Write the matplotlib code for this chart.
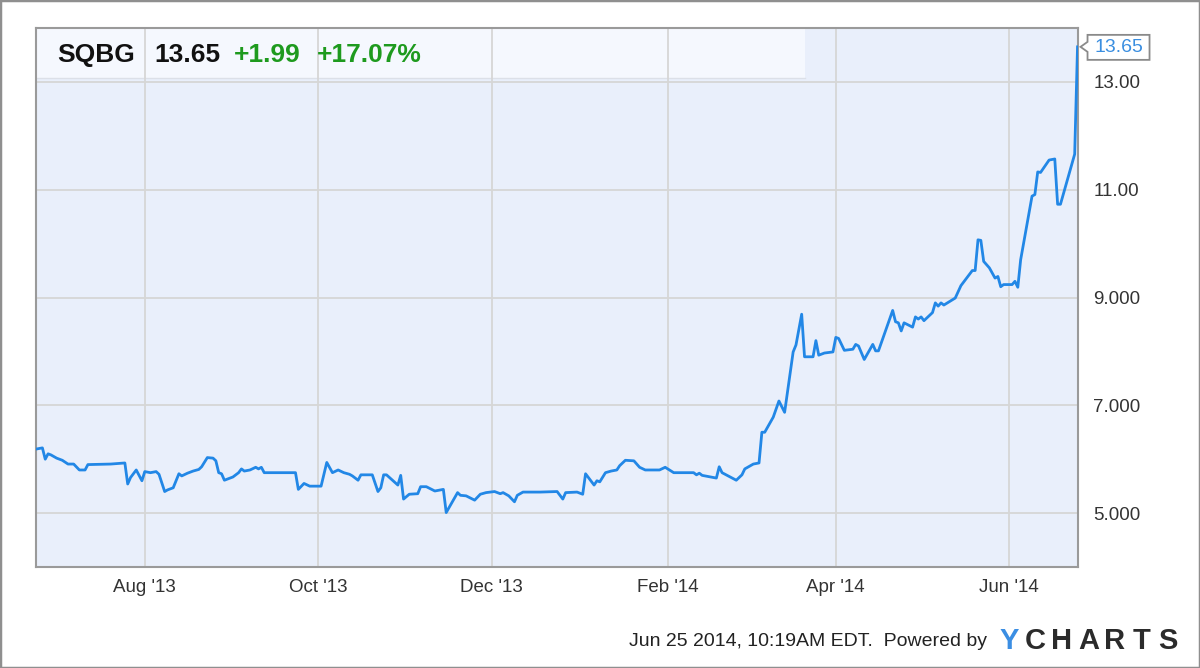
import matplotlib
matplotlib.use('Agg')
import matplotlib.pyplot as plt
import matplotlib.dates as mdates
import matplotlib.patches as patches
import matplotlib.transforms as mtransforms
import pandas as pd

# serie de precos
datas = [
    '2013-06-24', '2013-06-26', '2013-06-27', '2013-06-28', '2013-06-29', '2013-07-01',
    '2013-07-03', '2013-07-05', '2013-07-07', '2013-07-09', '2013-07-11', '2013-07-12',
    '2013-07-20', '2013-07-25', '2013-07-26', '2013-07-27', '2013-07-29', '2013-07-31',
    '2013-08-01', '2013-08-03', '2013-08-05', '2013-08-06', '2013-08-08', '2013-08-09',
    '2013-08-11', '2013-08-13', '2013-08-14', '2013-08-16', '2013-08-18', '2013-08-20',
    '2013-08-21', '2013-08-23', '2013-08-25', '2013-08-26', '2013-08-27', '2013-08-28',
    '2013-08-29', '2013-09-01', '2013-09-03', '2013-09-04', '2013-09-05', '2013-09-07',
    '2013-09-09', '2013-09-10', '2013-09-11', '2013-09-12', '2013-09-23', '2013-09-24',
    '2013-09-26', '2013-09-28', '2013-10-02', '2013-10-04', '2013-10-06', '2013-10-08',
    '2013-10-10', '2013-10-12', '2013-10-13', '2013-10-15', '2013-10-16', '2013-10-20',
    '2013-10-22', '2013-10-23', '2013-10-24', '2013-10-25', '2013-10-29', '2013-10-30',
    '2013-10-31', '2013-11-02', '2013-11-05', '2013-11-06', '2013-11-08', '2013-11-11',
    '2013-11-14', '2013-11-15', '2013-11-19', '2013-11-20', '2013-11-22', '2013-11-25',
    '2013-11-27', '2013-11-29', '2013-12-02', '2013-12-04', '2013-12-05', '2013-12-07',
    '2013-12-09', '2013-12-10', '2013-12-12', '2013-12-18', '2013-12-24', '2013-12-26',
    '2013-12-27', '2013-12-31', '2014-01-02', '2014-01-03', '2014-01-06', '2014-01-07',
    '2014-01-08', '2014-01-10', '2014-01-12', '2014-01-14', '2014-01-15', '2014-01-17',
    '2014-01-20', '2014-01-22', '2014-01-24', '2014-01-29', '2014-01-31', '2014-02-03',
    '2014-02-10', '2014-02-11', '2014-02-12', '2014-02-13', '2014-02-18', '2014-02-19',
    '2014-02-20', '2014-02-25', '2014-02-27', '2014-02-28', '2014-03-03', '2014-03-05',
    '2014-03-06', '2014-03-07', '2014-03-10', '2014-03-12', '2014-03-14', '2014-03-17',
    '2014-03-18', '2014-03-20', '2014-03-21', '2014-03-24', '2014-03-25', '2014-03-26',
    '2014-03-28', '2014-03-31', '2014-04-01', '2014-04-02', '2014-04-04', '2014-04-07',
    '2014-04-08', '2014-04-09', '2014-04-11', '2014-04-14', '2014-04-15', '2014-04-16',
    '2014-04-21', '2014-04-22', '2014-04-23', '2014-04-24', '2014-04-25', '2014-04-28',
    '2014-04-29', '2014-04-30', '2014-05-01', '2014-05-02', '2014-05-05', '2014-05-06',
    '2014-05-07', '2014-05-08', '2014-05-09', '2014-05-13', '2014-05-15', '2014-05-17',
    '2014-05-19', '2014-05-20', '2014-05-21', '2014-05-22', '2014-05-23', '2014-05-25',
    '2014-05-27', '2014-05-28', '2014-05-29', '2014-05-30', '2014-06-02', '2014-06-03',
    '2014-06-04', '2014-06-05', '2014-06-09', '2014-06-10', '2014-06-11', '2014-06-12',
    '2014-06-15', '2014-06-17', '2014-06-18', '2014-06-19', '2014-06-24', '2014-06-25',
]
precos = [
    6.19, 6.21, 6.00, 6.10, 6.08, 6.02,
    5.98, 5.91, 5.91, 5.80, 5.80, 5.90,
    5.91, 5.93, 5.54, 5.66, 5.80, 5.60,
    5.77, 5.75, 5.77, 5.72, 5.40, 5.43,
    5.47, 5.73, 5.69, 5.74, 5.78, 5.81,
    5.86, 6.03, 6.02, 5.97, 5.75, 5.73,
    5.61, 5.67, 5.75, 5.82, 5.78, 5.80,
    5.85, 5.82, 5.85, 5.75, 5.75, 5.44,
    5.55, 5.50, 5.50, 5.94, 5.75, 5.80,
    5.75, 5.72, 5.69, 5.61, 5.71, 5.71,
    5.40, 5.47, 5.71, 5.71, 5.52, 5.70,
    5.26, 5.35, 5.36, 5.49, 5.49, 5.41,
    5.44, 5.01, 5.38, 5.33, 5.32, 5.24,
    5.35, 5.38, 5.40, 5.36, 5.38, 5.32,
    5.21, 5.33, 5.39, 5.39, 5.40, 5.26,
    5.38, 5.39, 5.35, 5.73, 5.52, 5.60,
    5.58, 5.75, 5.78, 5.80, 5.88, 5.98,
    5.97, 5.85, 5.80, 5.80, 5.85, 5.75,
    5.75, 5.71, 5.74, 5.70, 5.65, 5.86,
    5.75, 5.61, 5.71, 5.82, 5.91, 5.93,
    6.50, 6.50, 6.78, 7.08, 6.87, 7.99,
    8.12, 8.69, 7.90, 7.90, 8.20, 7.93,
    7.97, 7.99, 8.26, 8.24, 8.02, 8.04,
    8.13, 8.10, 7.85, 8.13, 8.01, 8.01,
    8.76, 8.55, 8.53, 8.38, 8.53, 8.45,
    8.64, 8.60, 8.64, 8.57, 8.72, 8.90,
    8.84, 8.90, 8.86, 8.99, 9.22, 9.36,
    9.50, 9.50, 10.07, 10.06, 9.67, 9.55,
    9.36, 9.39, 9.20, 9.24, 9.24, 9.30,
    9.19, 9.70, 10.88, 10.91, 11.33, 11.32,
    11.55, 11.57, 10.73, 10.73, 11.66, 13.65,
]

yticks = [5, 7, 9, 11, 13]
ytick_labels = ['5.000', '7.000', '9.000', '11.00', '13.00']
xticks = ['2013-08-01', '2013-10-01', '2013-12-01', '2014-02-01', '2014-04-01', '2014-06-01']
xtick_labels = ["Aug '13", "Oct '13", "Dec '13", "Feb '14", "Apr '14", "Jun '14"]

ticker = 'SQBG'
ultimo = '13.65'
variacao = '+1.99'
variacao_pct = '+17.07%'
rodape = 'Jun 25 2014, 10:19AM EDT.  Powered by'
logo = 'YCHARTS'

plt.rcParams['font.family'] = ['Liberation Sans', 'DejaVu Sans']

fig = plt.figure(figsize=(12, 6.68), dpi=100)
ax = fig.add_axes([36 / 1200, 1 - 567 / 668, 1042 / 1200, 539 / 668])
ax.set_facecolor('#E9EFFB')

dates = pd.to_datetime(datas)
ax.plot(dates, precos, color='#2287E6', lw=2.0, solid_joinstyle='round', zorder=3)

ax.set_xlim(pd.Timestamp('2013-06-23 18:00'), pd.Timestamp('2014-06-25 04:00'))
ax.set_ylim(4, 14)

ax.yaxis.tick_right()
ax.set_yticks(yticks, ytick_labels)
ax.set_xticks(pd.to_datetime(xticks), xtick_labels)
ax.tick_params(length=0, labelsize=13.5, labelcolor='#333333')
ax.tick_params(axis='y', pad=11)
ax.tick_params(axis='x', pad=9)

ax.grid(color='#D6D6D6', lw=1.3)
ax.set_axisbelow(True)
for s in ax.spines.values():
    s.set_color('#9A9A9A')
    s.set_linewidth(1.5)

# faixa do cabecalho
ax.add_patch(patches.Rectangle((0, 0.907), 0.738, 0.093, transform=ax.transAxes,
                               facecolor='#F5F8FE', edgecolor='none', zorder=0.2))
ax.plot([0, 0.738], [0.907, 0.907], transform=ax.transAxes, color='#DCE0E8', lw=1, zorder=0.3)

yb = 1 - 62 / 668
fig.text(57 / 1200, yb, ticker, fontsize=19, fontweight='bold', color='#111111', va='baseline')
fig.text(154 / 1200, yb, ultimo, fontsize=19, fontweight='bold', color='#111111', va='baseline')
fig.text(234 / 1200, yb, variacao, fontsize=19, fontweight='bold', color='#1E9A1E', va='baseline')
fig.text(317 / 1200, yb, variacao_pct, fontsize=19, fontweight='bold', color='#1E9A1E', va='baseline')

# etiqueta do ultimo valor
px, py = ax.transData.transform((mdates.date2num(dates[-1]), precos[-1]))
ident = mtransforms.IdentityTransform()
tip = px + 3
pts = [(tip, py), (tip + 7, py + 5), (tip + 7, py + 12), (tip + 69, py + 12),
       (tip + 69, py - 13), (tip + 7, py - 13), (tip + 7, py - 5)]
fig.add_artist(patches.Polygon(pts, closed=True, transform=ident, facecolor='white',
                               edgecolor='#8A8A8A', lw=1.3))
fig.text(tip + 38, py - 0.5, ultimo, transform=ident, ha='center', va='center',
         fontsize=14, color='#3A8EE0')

# rodape
fig.text(987 / 1200, 1 - 641 / 668, rodape, ha='right', va='center', fontsize=14, color='#222222')
for i, letra in enumerate(logo):
    fig.text((1009 + i * 26.5) / 1200, 1 - 641 / 668, letra, ha='center', va='center',
             fontsize=21, fontweight='bold', color='#3B8EE3' if i == 0 else '#2B2B2B')

fig.add_artist(patches.Rectangle((0, 0), 1, 1, transform=fig.transFigure, fill=False,
                                 edgecolor='#8F8F8F', lw=2.5))

fig.savefig('out.png', dpi=100)
